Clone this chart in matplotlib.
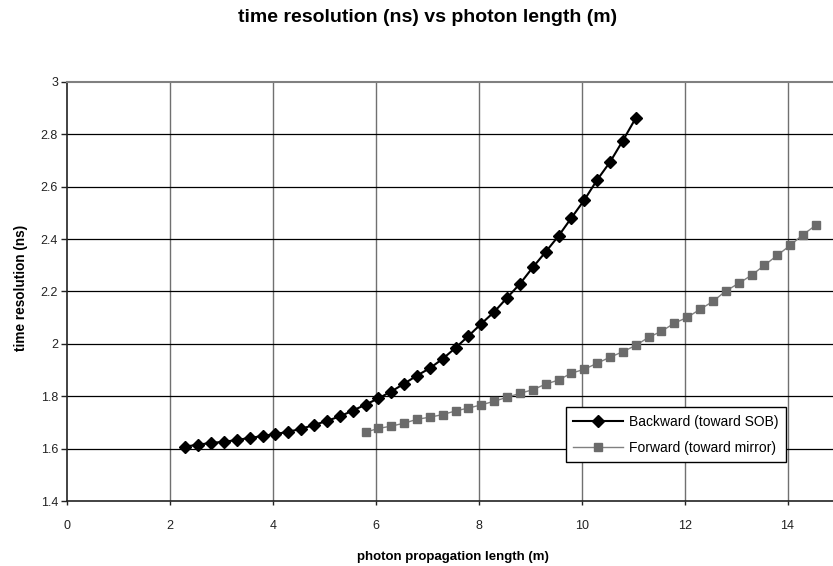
import matplotlib
matplotlib.use("Agg")
import matplotlib.pyplot as plt

plt.rcParams['font.family'] = ['Liberation Sans', 'DejaVu Sans']

# values
backward_x = [2.30, 2.55, 2.80, 3.05, 3.30, 3.55, 3.80, 4.05, 4.30, 4.55, 4.80, 5.05,
              5.30, 5.55, 5.80, 6.05, 6.30, 6.55, 6.80, 7.05, 7.30, 7.55, 7.80, 8.05,
              8.30, 8.55, 8.80, 9.05, 9.30, 9.55, 9.80, 10.05, 10.30, 10.55, 10.80, 11.05]
backward_y = [1.608, 1.615, 1.622, 1.626, 1.633, 1.641, 1.648, 1.656, 1.664, 1.676, 1.690, 1.706,
              1.723, 1.745, 1.768, 1.792, 1.818, 1.848, 1.879, 1.907, 1.943, 1.985, 2.030, 2.077,
              2.122, 2.176, 2.229, 2.292, 2.351, 2.412, 2.481, 2.549, 2.626, 2.694, 2.776, 2.862]

forward_x = [5.80, 6.05, 6.30, 6.55, 6.80, 7.05, 7.30, 7.55, 7.80, 8.05, 8.30, 8.55,
             8.80, 9.05, 9.30, 9.55, 9.80, 10.05, 10.30, 10.55, 10.80, 11.05, 11.30, 11.55,
             11.80, 12.05, 12.30, 12.55, 12.80, 13.05, 13.30, 13.55, 13.80, 14.05, 14.30, 14.55]
forward_y = [1.663, 1.677, 1.686, 1.697, 1.712, 1.720, 1.730, 1.744, 1.755, 1.767, 1.781, 1.796,
             1.811, 1.825, 1.846, 1.862, 1.888, 1.903, 1.926, 1.949, 1.970, 1.994, 2.025, 2.048,
             2.079, 2.101, 2.132, 2.162, 2.202, 2.231, 2.262, 2.300, 2.338, 2.376, 2.417, 2.453]

x_ticks = [0, 2, 4, 6, 8, 10, 12, 14]
y_ticks = [1.4, 1.6, 1.8, 2.0, 2.2, 2.4, 2.6, 2.8, 3.0]
y_tick_labels = ['1.4', '1.6', '1.8', '2', '2.2', '2.4', '2.6', '2.8', '3']

fig = plt.figure(figsize=(8.33, 5.66), dpi=100)
# plot area runs slightly past the right edge, as in the source image
ax = fig.add_axes([67 / 833, 65 / 566, 772 / 833, 419 / 566])

ax.set_xlim(0, 15)
ax.set_ylim(1.4, 3.0)
ax.set_xticks(x_ticks)
ax.set_yticks(y_ticks)
ax.set_yticklabels(y_tick_labels)

for v in x_ticks[1:]:
    ax.axvline(v, color='#707070', lw=1.0, zorder=1)
for v in y_ticks[1:-1]:
    ax.axhline(v, color='black', lw=0.9, zorder=1)

ax.plot(backward_x, backward_y, color='black', lw=1.5, marker='D', markersize=6,
        markerfacecolor='black', markeredgecolor='black', label='Backward (toward SOB)', zorder=3)
ax.plot(forward_x, forward_y, color='#808080', lw=1.0, marker='s', markersize=5.8,
        markerfacecolor='#6b6b6b', markeredgecolor='#6b6b6b', label='Forward (toward mirror)', zorder=3)

ax.spines['top'].set_color('#808080')
ax.spines['top'].set_linewidth(1.5)
ax.spines['right'].set_visible(False)
ax.spines['left'].set_color('#222222')
ax.spines['bottom'].set_color('#222222')
ax.spines['left'].set_linewidth(1.2)
ax.spines['bottom'].set_linewidth(1.2)

ax.tick_params(axis='y', direction='out', length=4, width=1, pad=2.5, labelsize=9, colors='#222222')
ax.tick_params(axis='x', direction='out', length=3, width=1, pad=10.5, labelsize=9, colors='#222222')

leg = ax.legend(loc='upper left', bbox_to_anchor=(0.646, 0.224), fontsize=10, fancybox=False,
                framealpha=1, edgecolor='black', handlelength=3.6, borderpad=0.55,
                labelspacing=0.85, handletextpad=0.4, borderaxespad=0)
leg.get_frame().set_linewidth(1.0)

fig.text(428 / 833, 1 - 17 / 566, 'time resolution (ns) vs photon length (m)', ha='center',
         va='center', fontsize=14, fontweight='bold')
fig.text(453 / 833, 1 - 557 / 566, 'photon propagation length (m)', ha='center', va='center',
         fontsize=9.5, fontweight='bold')
fig.text(21 / 833, 1 - 288 / 566, 'time resolution (ns)', ha='center', va='center',
         rotation=90, fontsize=9.8, fontweight='bold')

fig.savefig('out.png', dpi=100)
